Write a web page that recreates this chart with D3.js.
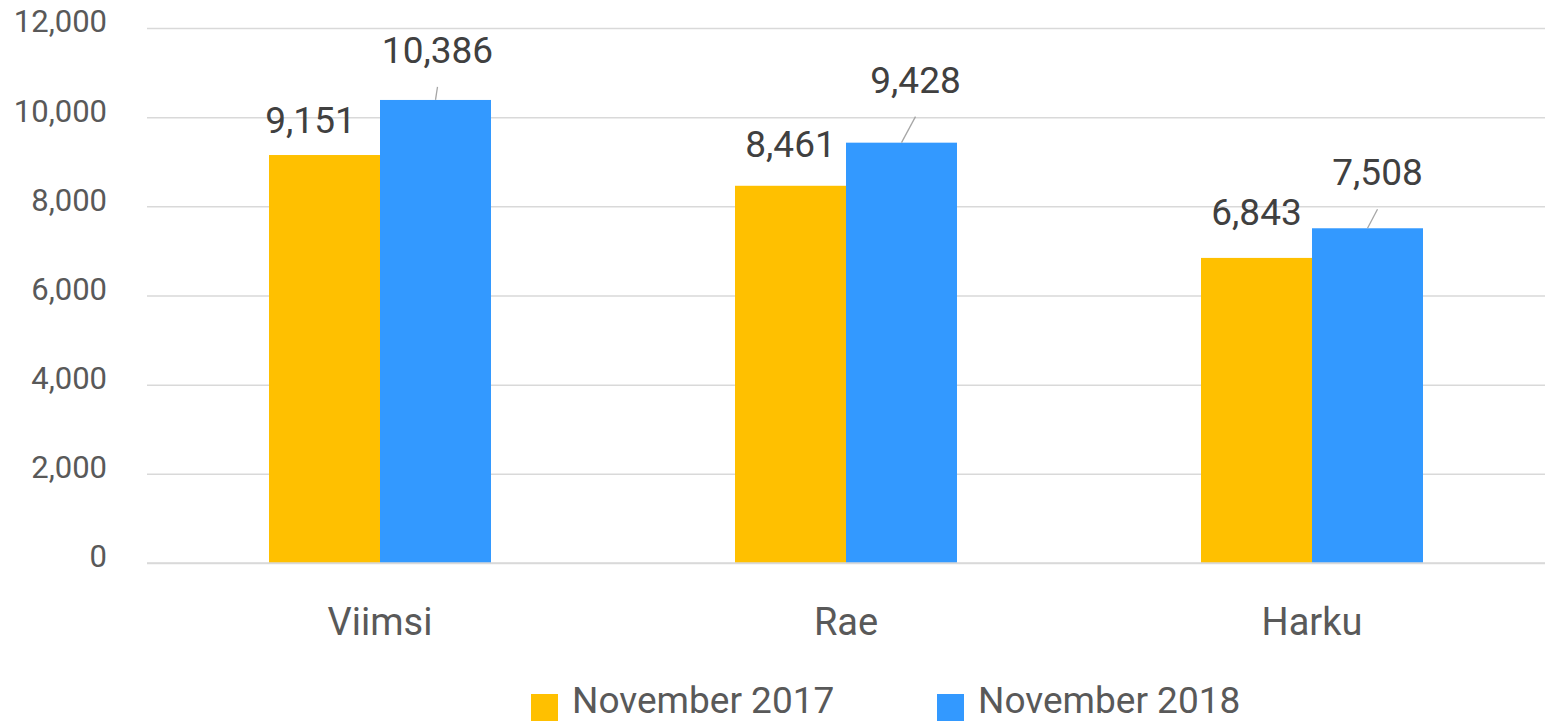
<!DOCTYPE html>
<html>
<head>
<meta charset="utf-8">
<script src="https://d3js.org/d3.v7.min.js"></script>
<style>
  html, body { margin: 0; padding: 0; background: #fff; }
  svg { display: block; font-family: Roboto, "Open Sans", sans-serif; }
</style>
</head>
<body>
<svg id="chart" width="1554" height="724"></svg>
<script>
// Data.
const categories = ['Viimsi', 'Rae', 'Harku'];
const seriesNames = ['November 2017', 'November 2018'];
const values2017 = [9151, 8461, 6843];
const values2018 = [10386, 9428, 7508];
const yTicks = [0, 2000, 4000, 6000, 8000, 10000, 12000];

// Manual nudges of the data labels (px): [dx, gap above bar top].
const labelNudge2017 = [[-14, 22], [0, 29], [0, 33]];
const labelNudge2018 = [[2, 37], [14, 50], [10, 43]];

const colors = ['#FFC000', '#3399FF'];

const svg = d3.select('#chart');
const margin = { left: 147, right: 9, top: 28, bottom: 161 };
const width = 1554, height = 724;

const x = d3.scaleBand()
  .domain(categories)
  .range([margin.left, width - margin.right])
  .paddingInner(0.5236)
  .paddingOuter(0.2618);

const xs = d3.scaleBand()
  .domain(seriesNames)
  .range([0, x.bandwidth()]);

const y = d3.scaleLinear()
  .domain([0, 12000])
  .range([height - margin.bottom, margin.top]);

const fmt = d3.format(',');

// Gridlines + y axis labels.
const yAxis = d3.axisLeft(y)
  .tickValues(yTicks)
  .tickFormat(fmt)
  .tickSize(-(width - margin.left - margin.right))
  .tickPadding(40);

const gy = svg.append('g')
  .attr('transform', `translate(${margin.left},0)`)
  .call(yAxis);
gy.select('.domain').remove();
gy.selectAll('.tick line').attr('stroke', '#d9d9d9').attr('stroke-width', 1.5);
gy.selectAll('.tick text')
  .attr('fill', '#595959')
  .attr('font-size', 31)
  .attr('font-family', 'Roboto, sans-serif')
  .attr('dy', '0.32em')
  .attr('y', -6);

// Category axis labels.
const gx = svg.append('g')
  .attr('transform', `translate(0,${height - margin.bottom})`)
  .call(d3.axisBottom(x).tickSize(0).tickPadding(0));
gx.select('.domain').remove();
gx.selectAll('.tick text')
  .attr('fill', '#595959')
  .attr('font-size', 38)
  .attr('font-family', 'Roboto, sans-serif')
  .attr('dy', 0)
  .attr('y', 72);

// Bars.
const rows = categories.map((c, i) => ({
  cat: c,
  vals: [values2017[i], values2018[i]],
  nudge: [labelNudge2017[i], labelNudge2018[i]]
}));

const groups = svg.append('g')
  .selectAll('g')
  .data(rows)
  .join('g')
  .attr('transform', (d) => `translate(${x(d.cat)},0)`);

groups.selectAll('rect')
  .data((d) => d.vals.map((v, k) => ({ v, k })))
  .join('rect')
  .attr('x', (d) => xs(seriesNames[d.k]))
  .attr('width', xs.bandwidth())
  .attr('y', (d) => y(d.v))
  .attr('height', (d) => y(0) - y(d.v))
  .attr('fill', (d) => colors[d.k]);

// Data labels (blue ones carry a leader line).
const labelData = groups.selectAll('g.lbl')
  .data((d) => d.vals.map((v, k) => ({ v, k, n: d.nudge[k] })))
  .join('g')
  .attr('class', 'lbl');

labelData.filter((d) => d.k === 1)
  .append('line')
  .attr('x1', (d) => xs(seriesNames[d.k]) + xs.bandwidth() / 2)
  .attr('y1', (d) => y(d.v))
  .attr('x2', (d) => xs(seriesNames[d.k]) + xs.bandwidth() / 2 + d.n[0])
  .attr('y2', (d) => y(d.v) - d.n[1] + 24)
  .attr('stroke', '#a6a6a6')
  .attr('stroke-width', 1.3);

labelData.append('text')
  .attr('x', (d) => xs(seriesNames[d.k]) + xs.bandwidth() / 2 + d.n[0])
  .attr('y', (d) => y(d.v) - d.n[1])
  .attr('text-anchor', 'middle')
  .attr('font-size', 37)
  .attr('fill', '#404040')
  .text((d) => fmt(d.v));

// Baseline.
svg.append('line')
  .attr('x1', margin.left)
  .attr('x2', width - margin.right)
  .attr('y1', y(0))
  .attr('y2', y(0))
  .attr('stroke', '#d9d9d9')
  .attr('stroke-width', 1.5);

// Legend.
const legendX = [531, 937];
const legend = svg.append('g')
  .selectAll('g')
  .data(seriesNames)
  .join('g')
  .attr('transform', (d, i) => `translate(${legendX[i]},694)`);
legend.append('rect')
  .attr('width', 27)
  .attr('height', 27)
  .attr('fill', (d, i) => colors[i]);
legend.append('text')
  .attr('x', 41)
  .attr('y', 19)
  .attr('font-size', 37)
  .attr('fill', '#595959')
  .text((d) => d);
</script>
</body>
</html>
